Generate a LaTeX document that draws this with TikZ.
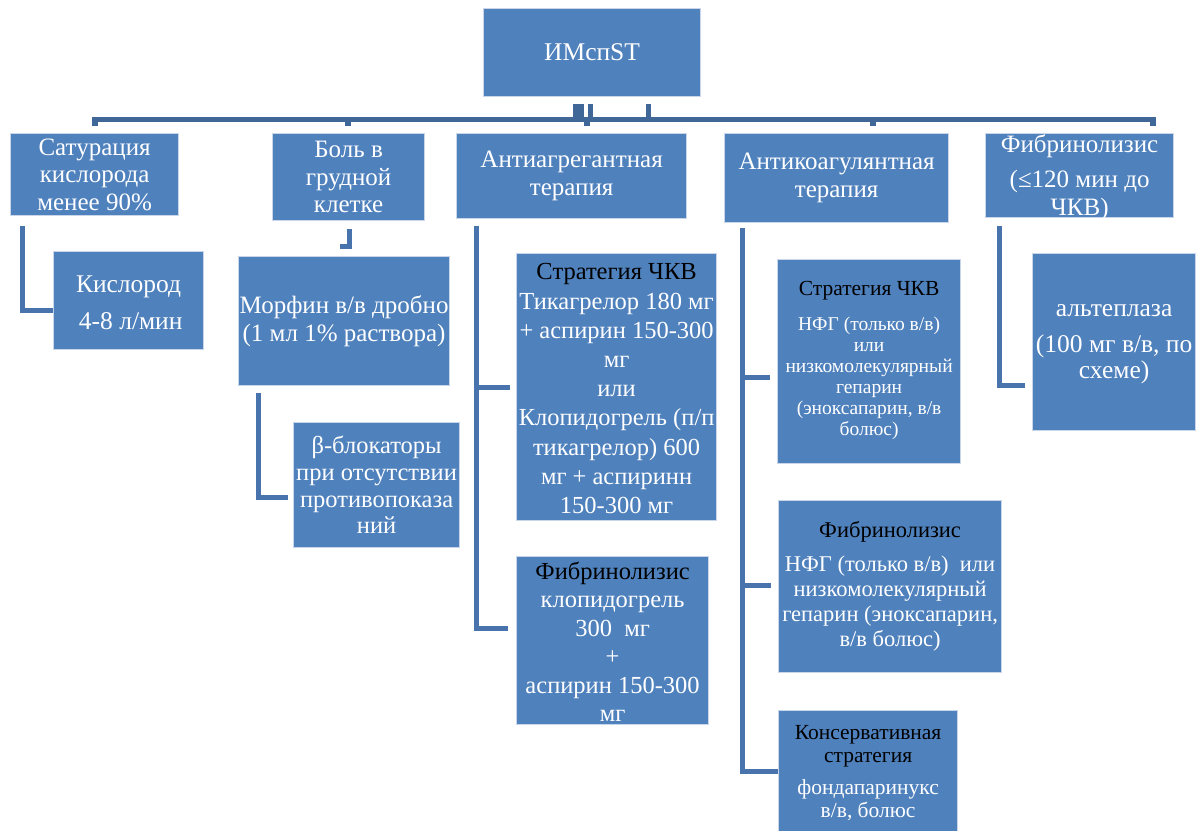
\documentclass[tikz,border=0pt]{standalone}
\usepackage{fontspec}
\setmainfont{Liberation Serif}
\definecolor{boxfill}{HTML}{4F81BD}
\definecolor{boxedge}{HTML}{C9D6EA}
\definecolor{busblue}{HTML}{3F6797}
\definecolor{connblue}{HTML}{4873AC}
\begin{document}
\begin{tikzpicture}[x=1pt,y=-1pt,
  box/.style={draw=boxedge, line width=1.2pt, fill=boxfill, anchor=north west, inner sep=0pt},
  txt/.style={text=white, align=center, inner sep=0pt, font=\fontsize{25}{27.5}\selectfont},
  bus/.style={draw=busblue, line width=5.5pt},
  conn/.style={draw=connblue, line width=5pt},
  gap/.style={shorten >=#1}
]
\useasboundingbox (0,0) rectangle (1201,830);
\fill[white] (0,0) rectangle (1201,830);

% ---------- boxes ----------
\node[box, minimum width=217, minimum height=88] (top) at (483,8) {};
\node[box, minimum width=168, minimum height=82] (sat) at (10,133) {};
\node[box, minimum width=152, minimum height=87] (bol) at (272,133) {};
\node[box, minimum width=230, minimum height=85] (agr) at (456,133) {};
\node[box, minimum width=224, minimum height=89] (koag) at (724,133) {};
\node[box, minimum width=188, minimum height=84] (fib) at (985,133) {};

\node[box, minimum width=150, minimum height=98] (kis) at (53,251) {};
\node[box, minimum width=211, minimum height=129] (mor) at (238,256) {};
\node[box, minimum width=166, minimum height=125] (beta) at (293,422) {};

\node[box, minimum width=200, minimum height=267] (agrA) at (516,253) {};
\node[box, minimum width=192, minimum height=168] (agrB) at (516,556) {};

\node[box, minimum width=183, minimum height=204] (koagA) at (777,259) {};
\node[box, minimum width=223, minimum height=172] (koagB) at (778,500) {};
\node[box, minimum width=179, minimum height=124] (koagC) at (778,710) {};

\node[box, minimum width=163, minimum height=177] (alt) at (1032,253) {};

% ---------- texts ----------
\node[txt, font=\fontsize{25.5}{28}\selectfont] (top-t) at (top) {ИМспST};
\node[txt] (sat-t) at (sat) {Сатурация\\кислорода\\менее 90\%};
\node[txt] (bol-t) at (bol) {Боль в\\грудной\\клетке};
\node[txt] (agr-t) at (agr) {Антиагрегантная\\терапия};
\node[txt] (koag-t) at (koag) {Антикоагулянтная\\терапия};
\node[txt] (fib-t) at ([yshift=-2]fib.center) {Фибринолизис\\[8pt](≤120 мин до\\ЧКВ)};

\node[txt, font=\fontsize{25.5}{28}\selectfont] (kis-t) at ([yshift=-2]kis.center) {Кислород\\[9pt]\,4-8 л/мин};
\node[txt] (mor-t) at (mor) {Морфин в/в дробно\\(1 мл 1\% раствора)};
\node[txt, font=\fontsize{24.5}{26.7}\selectfont] (beta-t) at (beta) {β-блокаторы\\при отсутствии\\противопоказа\\ний};

\node[txt, font=\fontsize{24.5}{29.2}\selectfont] (agrA-t) at ([yshift=-1.5]agrA.center)
  {\textcolor{black}{Стратегия ЧКВ}\\Тикагрелор 180 мг\\+ аспирин 150-300\\мг\\или\\Клопидогрель (п/п\\тикагрелор) 600\\мг + аспиринн\\150-300 мг};
\node[txt, font=\fontsize{24.5}{28.5}\selectfont] (agrB-t) at ([yshift=-1]agrB.center)
  {\textcolor{black}{Фибринолизис}\\клопидогрель\\300~~мг\\+\\аспирин 150-300\\мг};

\node[txt, font=\fontsize{19.5}{21}\selectfont] (koagA-t) at ([yshift=1.5]koagA.center)
  {\textcolor{black}{\fontsize{21.5}{21}\selectfont Стратегия ЧКВ}\\[14pt]НФГ (только в/в)\\или\\низкомолекулярный\\гепарин\\(эноксапарин, в/в\\болюс)};
\node[txt, font=\fontsize{22.5}{25}\selectfont] (koagB-t) at (koagB)
  {\textcolor{black}{Фибринолизис}\\[9pt]НФГ (только в/в)~ или\\низкомолекулярный\\гепарин (эноксапарин,\\в/в болюс)};
\node[txt, font=\fontsize{21.5}{23}\selectfont] (koagC-t) at ([yshift=-1]koagC.center)
  {\textcolor{black}{Консервативная}\\\textcolor{black}{стратегия}\\[9pt]фондапаринукс\\в/в, болюс};

\node[txt, font=\fontsize{25.5}{26}\selectfont] (alt-t) at ([yshift=-2.5]alt.center)
  {альтеплаза\\[10pt](100 мг в/в, по\\схеме)};

% ---------- top bus ----------
\coordinate (busL) at (95,119.5);
\coordinate (busR) at (1153,119.5);
\coordinate (tAgr) at (587,119.5);
\coordinate (tKoag) at (873,119.5);
\coordinate (tBol) at (348,119.5);
\draw[bus] ([yshift=-6.5]busL) -- (busL) -- (busR) -- ([yshift=-6.5]busR);
\draw[bus] (tBol) -- ++(0,6.5);
\draw[bus] (tAgr) -- ++(0,6.5);
\draw[bus] (tKoag) -- ++(0,6.5);
\draw[bus, line width=11pt] ([xshift=-14,yshift=-7]top.south) -- ([xshift=-14]top.south |- busL);
\draw[bus, line width=5pt] ([xshift=-1.5,yshift=-7]top.south) -- ([xshift=-1.5]top.south |- busL);
\draw[bus, line width=5pt] ([xshift=56,yshift=-7]top.south) -- ([xshift=56]top.south |- busL);

% ---------- branch connectors ----------
\coordinate (satDrop) at (22,226);
\draw[conn] (satDrop) |- ([yshift=-10]kis.west);

\coordinate (bolDrop) at (349,229);
\draw[conn] (bolDrop) -- ++(0,17) -- ++(-9,0);

\coordinate (morDrop) at (258,393);
\draw[conn, gap=5pt] (morDrop) |- ([yshift=-12.5]beta.west);

\coordinate (agrDrop) at (476,226);
\draw[conn, gap=6pt] (agrDrop) |- (agrA.west);
\draw[conn, gap=8pt] (agrDrop) |- ([yshift=12]agrB.west);

\coordinate (koagDrop) at (742,228);
\draw[conn, gap=7pt] (koagDrop) |- ([yshift=-16]koagA.west);
\draw[conn, gap=7pt] (koagDrop) |- ([yshift=1]koagB.west);
\draw[conn] (koagDrop) |- ([yshift=1]koagC.west);

\coordinate (fibDrop) at (999,226);
\draw[conn, gap=7pt] (fibDrop) |- ([yshift=-43.5]alt.west);
\end{tikzpicture}
\end{document}
